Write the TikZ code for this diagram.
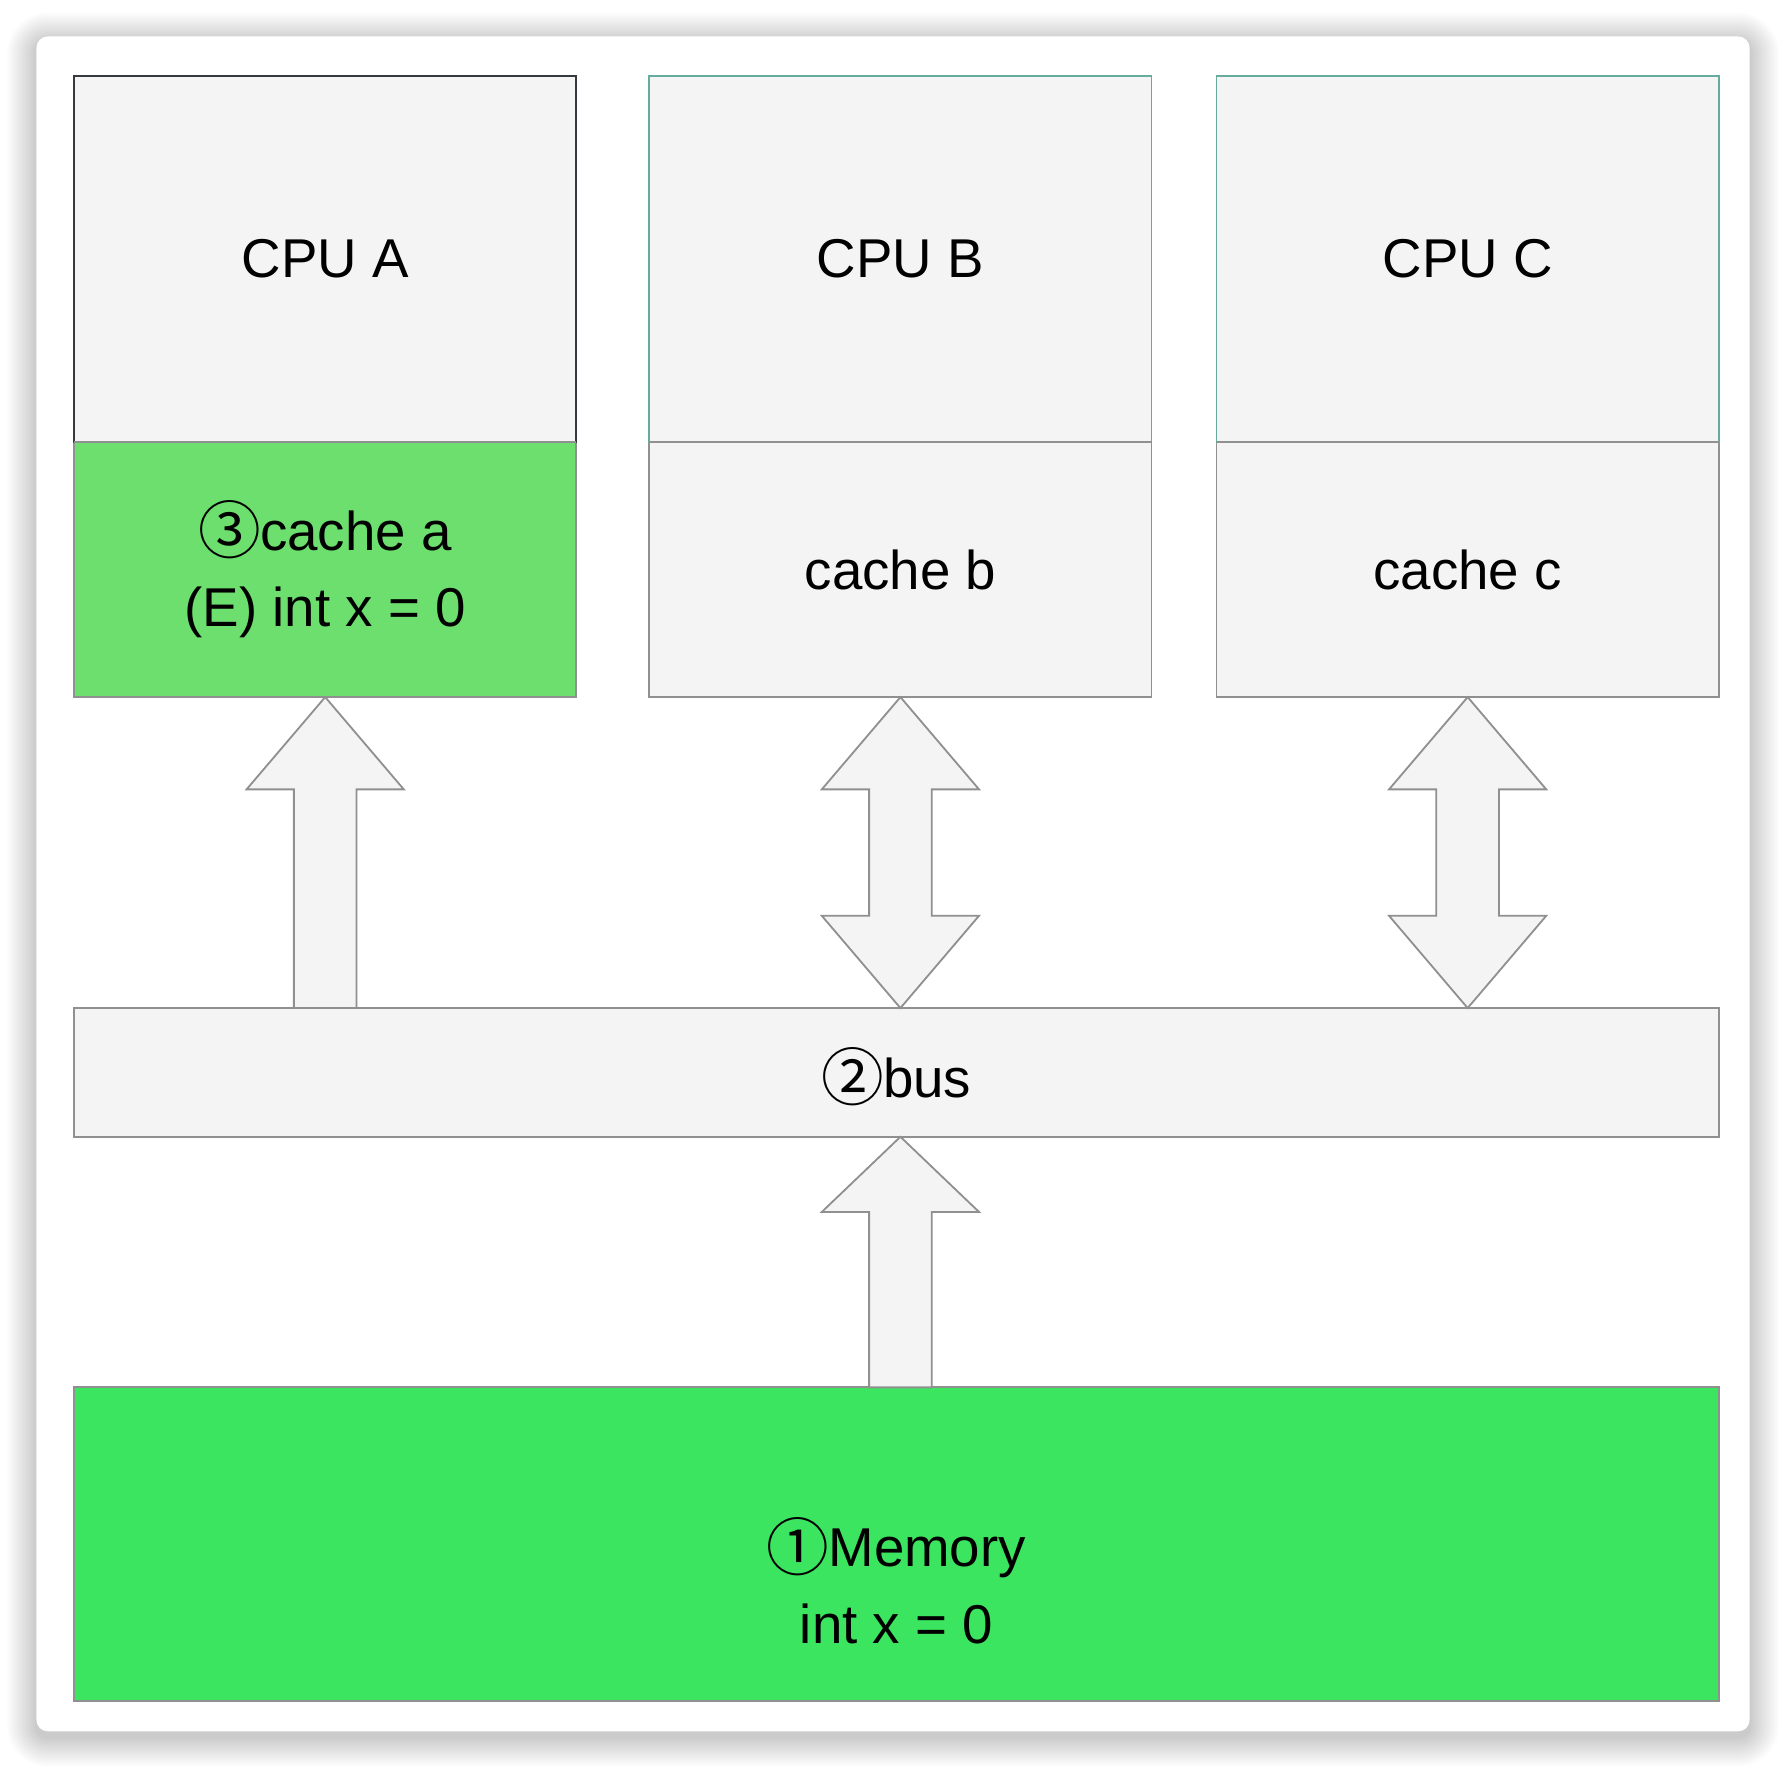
\documentclass[tikz,border=0pt]{standalone}
\usepackage{fontspec}
\setmainfont{Liberation Sans}
\newfontfamily\cjk{Noto Sans CJK SC}
\usetikzlibrary{calc}
\definecolor{cpuF}{HTML}{F4F4F4}
\definecolor{darkB}{HTML}{36393D}
\definecolor{tealB}{HTML}{67AB9F}
\definecolor{grayB}{HTML}{909090}
\definecolor{cacheG}{HTML}{6DDF6E}
\definecolor{memG}{HTML}{3BE55F}
\newcommand\circd[1]{\raisebox{-3pt}{\cjk\fontsize{55}{67}\selectfont #1}\kern-1pt}
% single up block arrow: #1 tip, #2 base, #3 head length
\newcommand\uparrowshape[3]{%
  \draw[blockarrow] let \p1=(#1), \p2=(#2) in
   (\x1,\y1) -- (\x1+69pt,\y1-#3) -- (\x1+27.5pt,\y1-#3) -- (\x1+27.5pt,\y2)
   -- (\x1-27.5pt,\y2) -- (\x1-27.5pt,\y1-#3) -- (\x1-69pt,\y1-#3) -- cycle;}
% double vertical block arrow: #1 top tip, #2 bottom tip, #3 head length
\newcommand\dblarrowshape[3]{%
  \draw[blockarrow] let \p1=(#1), \p2=(#2) in
   (\x1,\y1) -- (\x1+69pt,\y1-#3) -- (\x1+27.5pt,\y1-#3) -- (\x1+27.5pt,\y2+#3)
   -- (\x1+69pt,\y2+#3) -- (\x1,\y2) -- (\x1-69pt,\y2+#3) -- (\x1-27.5pt,\y2+#3)
   -- (\x1-27.5pt,\y1-#3) -- (\x1-69pt,\y1-#3) -- cycle;}
\tikzset{
  box/.style={rectangle, anchor=north west, inner sep=0pt, outer sep=0pt,
    line width=1.6pt, font=\fontsize{48}{67}\selectfont, align=center, text=black},
  cpubox/.style={box, fill=cpuF, draw=#1, minimum width=441pt, minimum height=321pt},
  cachebox/.style={box, fill=#1, draw=grayB, minimum width=441pt, minimum height=224pt},
  blockarrow/.style={draw=grayB, fill=cpuF, line width=1.6pt, line join=miter},
  txt/.style={inner sep=0pt, font=\fontsize{48}{67}\selectfont, align=center}
}
\begin{document}
\begin{tikzpicture}[x=1pt,y=-1pt]
\useasboundingbox[fill=white] (0,0) rectangle (1568,1552);
% card shadow (soft, layered)
\foreach \i in {1,...,26}{
  \fill[black, opacity=0.009, rounded corners={10pt+\i pt}]
    (32-\i, 37-\i) rectangle (1536+\i, 1525+\i);
}
% card
\fill[white, rounded corners=10pt] (32,32) rectangle (1536,1520);

% caches first so CPU borders sit on top
\node[cachebox=cacheG] (cacheA) at (65,388) {\circd{③}cache a\\(E) int x = 0};
\node[cachebox=cpuF] (cacheB) at (570,388) {cache b};
\node[cachebox=cpuF] (cacheC) at (1068,388) {cache c};

\node[cpubox=darkB] (cpuA) at (65,67) {CPU A};
\node[cpubox=tealB] (cpuB) at (570,67) {CPU B};
\node[cpubox=tealB] (cpuC) at (1068,67) {CPU C};
\draw[grayB, line width=1.6pt] (cpuA.south west) -- (cpuA.south east);
\draw[grayB, line width=1.6pt] (cpuB.south west) -- (cpuB.south east);
\draw[grayB, line width=1.6pt] (cpuC.south west) -- (cpuC.south east);

\node[box, fill=cpuF, draw=grayB, minimum width=1444pt, minimum height=113pt] (bus) at (65,885) {};
\node[txt] (bustxt) at ($(bus.center)+(0,4)$) {\circd{②}bus};

\node[box, fill=memG, draw=grayB, minimum width=1444pt, minimum height=275pt] (mem) at (65,1218) {};
\node[txt] (memtxt) at ($(mem.center)+(0,32)$) {\circd{①}Memory\\int x = 0};

% block arrows
\uparrowshape{cacheA.south}{cacheA.south |- bus.north}{81pt}
\dblarrowshape{cacheB.south}{cacheB.south |- bus.north}{81pt}
\dblarrowshape{cacheC.south}{cacheC.south |- bus.north}{81pt}
\uparrowshape{cacheB.south |- bus.south}{cacheB.south |- mem.north}{66pt}
\end{tikzpicture}
\end{document}
